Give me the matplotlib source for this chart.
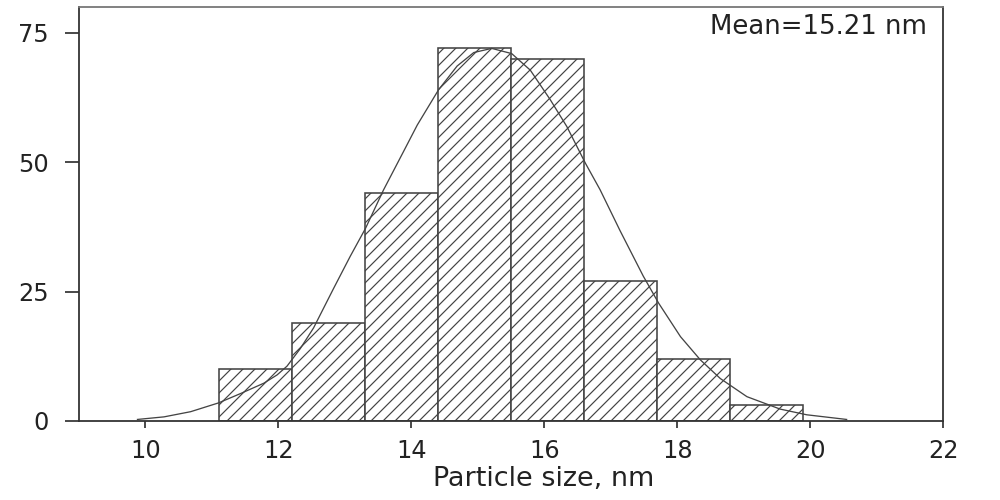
import matplotlib
matplotlib.use('Agg')
import matplotlib.pyplot as plt

# histogram bins (left edges, nm) and counts
bin_left = [11.1, 12.2, 13.3, 14.4, 15.5, 16.6, 17.7, 18.8]
bin_width = 1.1
counts = [10, 19, 44, 72, 70, 27, 12, 3]

# fitted curve
curve_x = [9.88, 10.28, 10.68, 11.10, 11.43, 11.78, 11.98, 12.13, 12.33, 12.53,
           12.83, 13.08, 13.31, 13.58, 13.88, 14.09, 14.41, 14.69, 14.94, 15.21,
           15.51, 15.79, 16.09, 16.34, 16.62, 16.84, 17.14, 17.49, 17.72, 18.05,
           18.35, 18.65, 19.05, 19.55, 19.95, 20.55]
curve_y = [0.3, 0.8, 1.8, 3.5, 5.3, 7.3, 8.9, 10.6, 14.0, 18.0,
           25.6, 31.8, 37.2, 44.6, 52.0, 57.2, 64.0, 68.6, 71.2, 72.0,
           71.0, 67.8, 62.1, 56.9, 49.8, 44.7, 36.8, 28.0, 22.8, 16.3,
           11.8, 8.2, 4.7, 2.3, 1.2, 0.3]

xticks = [10, 12, 14, 16, 18, 20, 22]
yticks = [0, 25, 50, 75]

plt.rcParams['font.family'] = 'DejaVu Sans'
plt.rcParams['hatch.linewidth'] = 1.2

fig = plt.figure(figsize=(1000/72, 500/72), dpi=72)
ax = fig.add_axes([0.079, 0.158, 0.864, 0.828])

ax.bar(bin_left, counts, width=bin_width, align='edge', color='white',
       edgecolor='#444444', linewidth=1.6, hatch='//')
ax.plot(curve_x, curve_y, color='#444444', linewidth=1.3)

ax.set_xlim(9, 22)
ax.set_ylim(0, 80)
ax.set_xticks(xticks)
ax.set_yticks(yticks)
ax.tick_params(axis='x', length=7, width=1.6, pad=11, labelsize=24, colors='#222222')
ax.tick_params(axis='y', length=14, width=1.6, pad=16, labelsize=24, colors='#222222')
for s in ax.spines.values():
    s.set_linewidth(1.8)
    s.set_color('#333333')
ax.spines['top'].set_color('#777777')

ax.set_xlabel('Particle size, nm', fontsize=27, color='#222222')
ax.xaxis.set_label_coords(0.538, -0.108)
ax.xaxis.label.set_va('top')

ax.text(0.981, 0.952, 'Mean=15.21 nm', transform=ax.transAxes, ha='right',
        va='center', fontsize=26, color='#222222')

fig.savefig('out.png', dpi=72)
